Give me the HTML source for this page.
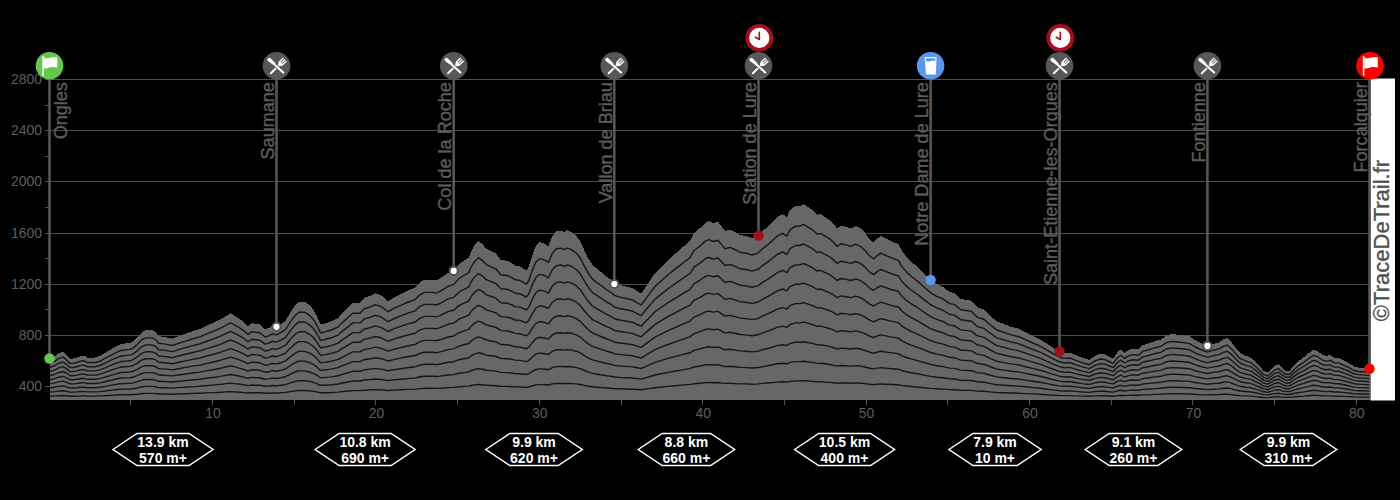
<!DOCTYPE html>
<html><head><meta charset="utf-8"><style>
html,body{margin:0;padding:0;background:#000;width:1400px;height:500px;overflow:hidden;}
svg{display:block;font-family:"Liberation Sans",sans-serif;}
</style></head><body>
<svg width="1400" height="500" viewBox="0 0 1400 500">
<rect width="1400" height="500" fill="#000"/>
<g stroke="#4f4f4f" stroke-width="1"><line x1="49.5" x2="1370" y1="386.5" y2="386.5"/><line x1="49.5" x2="1370" y1="335.5" y2="335.5"/><line x1="49.5" x2="1370" y1="284.5" y2="284.5"/><line x1="49.5" x2="1370" y1="233.5" y2="233.5"/><line x1="49.5" x2="1370" y1="181.5" y2="181.5"/><line x1="49.5" x2="1370" y1="130.5" y2="130.5"/><line x1="49.5" x2="1370" y1="79.5" y2="79.5"/></g>
<g stroke="#555" stroke-width="1" shape-rendering="crispEdges"><line x1="44.5" x2="49" y1="386.5" y2="386.5"/><line x1="44.5" x2="49" y1="361.5" y2="361.5"/><line x1="44.5" x2="49" y1="335.5" y2="335.5"/><line x1="44.5" x2="49" y1="309.5" y2="309.5"/><line x1="44.5" x2="49" y1="284.5" y2="284.5"/><line x1="44.5" x2="49" y1="258.5" y2="258.5"/><line x1="44.5" x2="49" y1="233.5" y2="233.5"/><line x1="44.5" x2="49" y1="207.5" y2="207.5"/><line x1="44.5" x2="49" y1="181.5" y2="181.5"/><line x1="44.5" x2="49" y1="156.5" y2="156.5"/><line x1="44.5" x2="49" y1="130.5" y2="130.5"/><line x1="44.5" x2="49" y1="105.5" y2="105.5"/><line x1="44.5" x2="49" y1="79.5" y2="79.5"/><line x1="130.8" x2="130.8" y1="400" y2="404.5"/><line x1="212.5" x2="212.5" y1="400" y2="404.5"/><line x1="294.2" x2="294.2" y1="400" y2="404.5"/><line x1="375.9" x2="375.9" y1="400" y2="404.5"/><line x1="457.6" x2="457.6" y1="400" y2="404.5"/><line x1="539.3" x2="539.3" y1="400" y2="404.5"/><line x1="621" x2="621" y1="400" y2="404.5"/><line x1="702.7" x2="702.7" y1="400" y2="404.5"/><line x1="784.4" x2="784.4" y1="400" y2="404.5"/><line x1="866.1" x2="866.1" y1="400" y2="404.5"/><line x1="947.8" x2="947.8" y1="400" y2="404.5"/><line x1="1029.5" x2="1029.5" y1="400" y2="404.5"/><line x1="1111.2" x2="1111.2" y1="400" y2="404.5"/><line x1="1192.9" x2="1192.9" y1="400" y2="404.5"/><line x1="1274.6" x2="1274.6" y1="400" y2="404.5"/><line x1="1356.3" x2="1356.3" y1="400" y2="404.5"/></g>
<g fill="#5e5e5e" font-size="15" text-anchor="end"><text transform="translate(42,390.5) scale(0.93,1)">400</text><text transform="translate(42,339.5) scale(0.93,1)">800</text><text transform="translate(42,288.5) scale(0.93,1)">1200</text><text transform="translate(42,237.5) scale(0.93,1)">1600</text><text transform="translate(42,185.5) scale(0.93,1)">2000</text><text transform="translate(42,134.5) scale(0.93,1)">2400</text><text transform="translate(42,83.5) scale(0.93,1)">2800</text></g>
<g fill="#5e5e5e" font-size="15" text-anchor="middle"><text transform="translate(213,418) scale(0.93,1)">10</text><text transform="translate(376.4,418) scale(0.93,1)">20</text><text transform="translate(539.8,418) scale(0.93,1)">30</text><text transform="translate(703.2,418) scale(0.93,1)">40</text><text transform="translate(866.6,418) scale(0.93,1)">50</text><text transform="translate(1030,418) scale(0.93,1)">60</text><text transform="translate(1193.4,418) scale(0.93,1)">70</text><text transform="translate(1356.8,418) scale(0.93,1)">80</text></g>
<path d="M49.5,399.5 L49.5,358.5 L55,356 L58,353.5 L63,351.5 L66,354 L70,358.5 L73,358.5 L77,357.5 L82,355.5 L85,356 L87,357.5 L95,357.5 L100,356 L105,353 L110,350 L115,347 L120,344.5 L125,343.5 L130,343 L133,341.5 L137,338 L141,333 L144,331 L146,330.2 L152,330.2 L155.6,332 L158.6,336.2 L164,336.8 L172.4,338.6 L178.4,336.2 L185.6,333.8 L194,330.8 L200,329 L206,326 L214.4,322.4 L221.6,318.8 L226.4,315.8 L230.6,313.4 L234.8,315.8 L240,319.4 L243.6,322 L247.8,326.2 L252,323.2 L255.6,323.8 L259.8,324.4 L265.2,329.2 L268.8,328 L272.4,325.6 L276.5,326.8 L280.8,324.4 L285.6,320.8 L290.4,312.4 L295.2,305.2 L298.8,301.6 L304.8,301.6 L309.6,305.2 L313.2,309.4 L316.8,316 L320.4,324.4 L324,323.8 L331.2,321.4 L338.4,317.8 L340,315.5 L346.4,309.2 L352.8,302.8 L360,302.8 L364,298 L370.4,295.6 L375.2,293.2 L381.6,295.6 L388,301.2 L394.4,297.2 L400.8,294 L407.2,290.8 L415.2,287.6 L420,282 L424.8,279.6 L432.8,279.6 L436,280.4 L440,278.5 L448,272.8 L453.6,270.9 L459.2,264 L464,260.8 L468.8,257.6 L471.2,251.2 L474.4,245.6 L478.4,241.1 L482.4,244 L486.4,248.8 L491.2,251.2 L496,253.6 L500.8,260 L507.2,260.8 L512,263.2 L515.2,265.6 L520,266.4 L526.4,270.4 L528.8,266.4 L532.8,253.6 L536,245.6 L539.2,242.4 L541.2,242.4 L545.2,244 L548.4,246.4 L552.4,236 L556.4,231.2 L561.2,230.4 L564.4,232 L567.6,230.4 L571.6,232 L576.4,236 L580.4,241.6 L584.4,250.4 L588.4,258.4 L592.4,264.8 L597.2,268.8 L602,272.8 L606.8,276.8 L611.6,280 L614.3,283 L619.6,284.8 L626,286.4 L632.4,288 L637.2,291.2 L641.2,293.6 L645.5,287 L650,280.5 L655,273 L660,268 L668,260 L676,253 L684,246 L690,241 L694,233 L700,228 L706,222 L709,221 L713,223 L718,221.6 L722,227 L725,231 L730,229.6 L735,232 L740,235 L746,236 L752,238 L758.3,235.6 L762.8,230.8 L767.6,226.8 L772.4,222 L777.2,217.2 L782.8,214 L786.8,217.2 L790,210 L795.6,206 L799.6,206 L803.6,204.1 L807.6,206.8 L812.4,210 L817.2,214.8 L820.4,214 L825.2,217.2 L830,220.4 L833.2,223.6 L837.2,228.4 L841.2,225.5 L846,226.8 L850.8,228.4 L855.6,226 L860.4,228.4 L864.8,232.8 L869.6,239.2 L873.6,242.4 L877.6,238.4 L880.8,236 L885.6,238.4 L892,241.6 L898.4,244 L901.6,250.4 L906.4,256.8 L911.2,261.6 L917.6,267.2 L924,273.6 L930.6,280 L936.8,284 L943.2,287.2 L949.6,292 L954.5,293 L960.8,298.9 L971.6,300.7 L977,307 L984.2,309.7 L989.6,315.1 L996.8,321.4 L1004,324 L1011.2,326.8 L1018.3,328.6 L1025.5,332.2 L1032.7,335.8 L1040,339.4 L1047.1,343.8 L1052.5,347.4 L1059.4,351.4 L1064.2,352.9 L1069.8,352.5 L1075.4,355 L1082.4,357.8 L1089.4,359.9 L1095,355.7 L1100.6,353.6 L1104.8,354.3 L1109,356.4 L1113.2,358.5 L1117.4,352.2 L1120.9,349.4 L1124.4,352.9 L1128.6,350.1 L1132.8,348.7 L1138.4,349.4 L1142.6,345.2 L1149.6,343.1 L1155.2,341 L1160.8,339.6 L1166.4,335.4 L1172,334 L1176,334.5 L1184,335.4 L1189.6,336.5 L1195.2,340.3 L1200.8,343.1 L1207.4,345.9 L1213.4,343.8 L1219,342.4 L1223.2,339.6 L1227.4,338.2 L1231.6,342.4 L1235.8,348 L1240,352.9 L1245.6,355.7 L1251.2,357.8 L1255.4,362 L1259.6,366.2 L1263.8,371.1 L1268,372.5 L1271,369.5 L1274.3,366 L1278.4,364.3 L1281.5,367.3 L1285.4,370.6 L1289.6,370.6 L1293.8,365.7 L1298,361.5 L1303.6,357.3 L1307.8,353.8 L1313.4,349.6 L1317.6,351 L1321.8,354.5 L1326,355.9 L1330.2,355.2 L1334.4,358 L1338.6,358 L1342.8,360.1 L1348.4,362.9 L1354,366.4 L1359.6,367.8 L1363.8,367.8 L1369.5,368.8 L1369.5,399.5 Z" fill="#676767" shape-rendering="crispEdges"/>
<g fill="none" stroke="#161616" stroke-width="1.4" stroke-linejoin="round"><polyline points="49.5,363.4 55,361.2 58,358.9 63,357.1 66,359.4 70,363.4 73,363.4 77,362.5 82,360.7 85,361.2 87,362.5 95,362.5 100,361.2 105,358.4 110,355.8 115,353.1 120,350.8 125,349.9 130,349.4 133,348.1 137,344.9 141,340.4 144,338.7 146,337.9 152,337.9 155.6,339.6 158.6,343.3 164,343.9 172.4,345.5 178.4,343.3 185.6,341.2 194,338.5 200,336.9 206,334.2 214.4,330.9 221.6,327.7 226.4,325 230.6,322.8 234.8,325 240,328.2 243.6,330.6 247.8,334.3 252,331.6 255.6,332.2 259.8,332.7 265.2,337 268.8,335.9 272.4,333.8 276.5,334.9 280.8,332.7 285.6,329.5 290.4,321.9 295.2,315.4 298.8,312.2 304.8,312.2 309.6,315.4 313.2,319.2 316.8,325.2 320.4,332.7 324,332.2 331.2,330 338.4,326.8 340,324.7 346.4,319 352.8,313.3 360,313.3 364,308.9 370.4,306.8 375.2,304.6 381.6,306.8 388,311.8 394.4,308.2 400.8,305.4 407.2,302.5 415.2,299.6 420,294.6 424.8,292.4 432.8,292.4 436,293.1 440,291.4 448,286.3 453.6,284.6 459.2,278.4 464,275.5 468.8,272.6 471.2,266.8 474.4,261.8 478.4,257.7 482.4,260.4 486.4,264.7 491.2,266.8 496,269 500.8,274.8 507.2,275.5 512,277.6 515.2,279.8 520,280.5 526.4,284.1 528.8,280.5 532.8,269 536,261.8 539.2,258.9 541.2,258.9 545.2,260.4 548.4,262.5 552.4,253.2 556.4,248.8 561.2,248.1 564.4,249.6 567.6,248.1 571.6,249.6 576.4,253.2 580.4,258.2 584.4,266.1 588.4,273.3 592.4,279.1 597.2,282.7 602,286.3 606.8,289.9 611.6,292.8 614.3,295.4 619.6,297.1 626,298.5 632.4,299.9 637.2,302.8 641.2,305 645.5,299.1 650,293.2 655,286.4 660,281.9 668,274.8 676,268.4 684,262.2 690,257.7 694,250.5 700,246 706,240.6 709,239.7 713,241.5 718,240.2 722,245.1 725,248.7 730,247.4 735,249.6 740,252.2 746,253.2 752,255 758.3,252.8 762.8,248.5 767.6,244.9 772.4,240.6 777.2,236.2 782.8,233.4 786.8,236.2 790,229.8 795.6,226.2 799.6,226.2 803.6,224.4 807.6,226.9 812.4,229.8 817.2,234.1 820.4,233.4 825.2,236.2 830,239.1 833.2,242 837.2,246.3 841.2,243.7 846,244.9 850.8,246.3 855.6,244.2 860.4,246.3 864.8,250.3 869.6,256 873.6,258.9 877.6,255.3 880.8,253.2 885.6,255.3 892,258.2 898.4,260.4 901.6,266.1 906.4,271.9 911.2,276.2 917.6,281.2 924,287 930.6,292.8 936.8,296.4 943.2,299.2 949.6,303.6 954.5,304.4 960.8,309.8 971.6,311.4 977,317.1 984.2,319.5 989.6,324.3 996.8,330 1004,332.4 1011.2,334.9 1018.3,336.5 1025.5,339.7 1032.7,343 1040,346.2 1047.1,350.2 1052.5,353.4 1059.4,357 1064.2,358.4 1069.8,358 1075.4,360.2 1082.4,362.8 1089.4,364.7 1095,360.9 1100.6,359 1104.8,359.6 1109,361.5 1113.2,363.4 1117.4,357.7 1120.9,355.2 1124.4,358.4 1128.6,355.8 1132.8,354.6 1138.4,355.2 1142.6,351.4 1149.6,349.5 1155.2,347.7 1160.8,346.4 1166.4,342.6 1172,341.4 1176,341.8 1184,342.6 1189.6,343.6 1195.2,347 1200.8,349.5 1207.4,352.1 1213.4,350.2 1219,348.9 1223.2,346.4 1227.4,345.1 1231.6,348.9 1235.8,353.9 1240,358.4 1245.6,360.9 1251.2,362.8 1255.4,366.6 1259.6,370.3 1263.8,374.7 1268,376 1271,373.3 1274.3,370.2 1278.4,368.6 1281.5,371.3 1285.4,374.3 1289.6,374.3 1293.8,369.9 1298,366.1 1303.6,362.3 1307.8,359.2 1313.4,355.4 1317.6,356.7 1321.8,359.8 1326,361.1 1330.2,360.4 1334.4,362.9 1338.6,362.9 1342.8,364.8 1348.4,367.4 1354,370.5 1359.6,371.8 1363.8,371.8 1369.5,372.7"/><polyline points="49.5,367.5 55,365.5 58,363.5 63,361.9 66,363.9 70,367.5 73,367.5 77,366.7 82,365.1 85,365.5 87,366.7 95,366.7 100,365.5 105,363.1 110,360.7 115,358.3 120,356.3 125,355.5 130,355.1 133,353.9 137,351.1 141,347.1 144,345.5 146,344.9 152,344.9 155.6,346.3 158.6,349.7 164,350.1 172.4,351.6 178.4,349.7 185.6,347.7 194,345.3 200,343.9 206,341.5 214.4,338.6 221.6,335.7 226.4,333.3 230.6,331.4 234.8,333.3 240,336.2 243.6,338.3 247.8,341.7 252,339.3 255.6,339.7 259.8,340.2 265.2,344.1 268.8,343.1 272.4,341.2 276.5,342.1 280.8,340.2 285.6,337.3 290.4,330.6 295.2,324.9 298.8,322 304.8,322 309.6,324.9 313.2,328.2 316.8,333.5 320.4,340.2 324,339.7 331.2,337.8 338.4,334.9 340,333.1 346.4,328.1 352.8,322.9 360,322.9 364,319.1 370.4,317.2 375.2,315.3 381.6,317.2 388,321.7 394.4,318.5 400.8,315.9 407.2,313.3 415.2,310.8 420,306.3 424.8,304.4 432.8,304.4 436,305 440,303.5 448,298.9 453.6,297.4 459.2,291.9 464,289.3 468.8,286.8 471.2,281.7 474.4,277.2 478.4,273.6 482.4,275.9 486.4,279.7 491.2,281.7 496,283.6 500.8,288.7 507.2,289.3 512,291.3 515.2,293.2 520,293.8 526.4,297 528.8,293.8 532.8,283.6 536,277.2 539.2,274.6 541.2,274.6 545.2,275.9 548.4,277.8 552.4,269.5 556.4,265.7 561.2,265 564.4,266.3 567.6,265 571.6,266.3 576.4,269.5 580.4,274 584.4,281 588.4,287.4 592.4,292.5 597.2,295.7 602,298.9 606.8,302.1 611.6,304.7 614.3,307.1 619.6,308.5 626,309.8 632.4,311.1 637.2,313.7 641.2,315.6 645.5,310.3 650,305.1 655,299.1 660,295.1 668,288.7 676,283.1 684,277.5 690,273.5 694,267.1 700,263.1 706,258.3 709,257.5 713,259.1 718,258 722,262.3 725,265.5 730,264.4 735,266.3 740,268.7 746,269.5 752,271.1 758.3,269.2 762.8,265.3 767.6,262.1 772.4,258.3 777.2,254.5 782.8,251.9 786.8,254.5 790,248.7 795.6,245.5 799.6,245.5 803.6,244 807.6,246.1 812.4,248.7 817.2,252.5 820.4,251.9 825.2,254.5 830,257 833.2,259.6 837.2,263.4 841.2,261.1 846,262.1 850.8,263.4 855.6,261.5 860.4,263.4 864.8,266.9 869.6,272.1 873.6,274.6 877.6,271.4 880.8,269.5 885.6,271.4 892,274 898.4,275.9 901.6,281 906.4,286.1 911.2,290 917.6,294.5 924,299.6 930.6,304.7 936.8,307.9 943.2,310.5 949.6,314.3 954.5,315.1 960.8,319.8 971.6,321.3 977,326.3 984.2,328.5 989.6,332.8 996.8,337.8 1004,339.9 1011.2,342.1 1018.3,343.6 1025.5,346.5 1032.7,349.3 1040,352.2 1047.1,355.7 1052.5,358.6 1059.4,361.8 1064.2,363 1069.8,362.7 1075.4,364.7 1082.4,366.9 1089.4,368.6 1095,365.3 1100.6,363.6 1104.8,364.1 1109,365.8 1113.2,367.5 1117.4,362.5 1120.9,360.2 1124.4,363 1128.6,360.8 1132.8,359.7 1138.4,360.2 1142.6,356.9 1149.6,355.2 1155.2,353.5 1160.8,352.4 1166.4,349 1172,347.9 1176,348.3 1184,349 1189.6,349.9 1195.2,352.9 1200.8,355.2 1207.4,357.4 1213.4,355.7 1219,354.6 1223.2,352.4 1227.4,351.3 1231.6,354.6 1235.8,359.1 1240,363 1245.6,365.3 1251.2,366.9 1255.4,370.3 1259.6,373.7 1263.8,377.6 1268,378.7 1271,376.3 1274.3,373.5 1278.4,372.1 1281.5,374.5 1285.4,377.2 1289.6,377.2 1293.8,373.3 1298,369.9 1303.6,366.5 1307.8,363.7 1313.4,360.4 1317.6,361.5 1321.8,364.3 1326,365.4 1330.2,364.9 1334.4,367.1 1338.6,367.1 1342.8,368.8 1348.4,371 1354,373.8 1359.6,374.9 1363.8,374.9 1369.5,375.7"/><polyline points="49.5,371.6 55,369.9 58,368.1 63,366.7 66,368.4 70,371.6 73,371.6 77,370.9 82,369.5 85,369.9 87,370.9 95,370.9 100,369.9 105,367.8 110,365.7 115,363.6 120,361.8 125,361.1 130,360.8 133,359.7 137,357.2 141,353.8 144,352.4 146,351.8 152,351.8 155.6,353.1 158.6,356 164,356.4 172.4,357.7 178.4,356 185.6,354.3 194,352.2 200,350.9 206,348.9 214.4,346.3 221.6,343.8 226.4,341.7 230.6,340 234.8,341.7 240,344.2 243.6,346.1 247.8,349 252,346.9 255.6,347.3 259.8,347.7 265.2,351.1 268.8,350.2 272.4,348.6 276.5,349.4 280.8,347.7 285.6,345.2 290.4,339.3 295.2,334.3 298.8,331.8 304.8,331.8 309.6,334.3 313.2,337.2 316.8,341.9 320.4,347.7 324,347.3 331.2,345.6 338.4,343.1 340,341.5 346.4,337.1 352.8,332.6 360,332.6 364,329.2 370.4,327.6 375.2,325.9 381.6,327.6 388,331.5 394.4,328.7 400.8,326.4 407.2,324.2 415.2,322 420,318.1 424.8,316.4 432.8,316.4 436,316.9 440,315.6 448,311.6 453.6,310.3 459.2,305.4 464,303.2 468.8,301 471.2,296.5 474.4,292.6 478.4,289.4 482.4,291.4 486.4,294.8 491.2,296.5 496,298.2 500.8,302.7 507.2,303.2 512,304.9 515.2,306.6 520,307.1 526.4,309.9 528.8,307.1 532.8,298.2 536,292.6 539.2,290.3 541.2,290.3 545.2,291.4 548.4,293.1 552.4,285.9 556.4,282.5 561.2,281.9 564.4,283.1 567.6,281.9 571.6,283.1 576.4,285.9 580.4,289.8 584.4,295.9 588.4,301.5 592.4,306 597.2,308.8 602,311.6 606.8,314.4 611.6,316.7 614.3,318.8 619.6,320 626,321.1 632.4,322.2 637.2,324.5 641.2,326.2 645.5,321.6 650,317 655,311.8 660,308.2 668,302.7 676,297.8 684,292.9 690,289.4 694,283.8 700,280.2 706,276.1 709,275.4 713,276.8 718,275.8 722,279.6 725,282.4 730,281.4 735,283.1 740,285.2 746,285.9 752,287.2 758.3,285.6 762.8,282.2 767.6,279.4 772.4,276.1 777.2,272.7 782.8,270.4 786.8,272.7 790,267.7 795.6,264.9 799.6,264.9 803.6,263.5 807.6,265.4 812.4,267.7 817.2,271 820.4,270.4 825.2,272.7 830,274.9 833.2,277.2 837.2,280.5 841.2,278.5 846,279.4 850.8,280.5 855.6,278.9 860.4,280.5 864.8,283.6 869.6,288.1 873.6,290.3 877.6,287.5 880.8,285.9 885.6,287.5 892,289.8 898.4,291.4 901.6,295.9 906.4,300.4 911.2,303.8 917.6,307.7 924,312.2 930.6,316.7 936.8,319.4 943.2,321.7 949.6,325.1 954.5,325.8 960.8,329.9 971.6,331.1 977,335.6 984.2,337.4 989.6,341.2 996.8,345.6 1004,347.4 1011.2,349.4 1018.3,350.7 1025.5,353.2 1032.7,355.7 1040,358.2 1047.1,361.3 1052.5,363.8 1059.4,366.6 1064.2,367.7 1069.8,367.4 1075.4,369.2 1082.4,371.1 1089.4,372.6 1095,369.6 1100.6,368.2 1104.8,368.7 1109,370.1 1113.2,371.6 1117.4,367.2 1120.9,365.2 1124.4,367.7 1128.6,365.7 1132.8,364.7 1138.4,365.2 1142.6,362.3 1149.6,360.8 1155.2,359.4 1160.8,358.4 1166.4,355.4 1172,354.4 1176,354.8 1184,355.4 1189.6,356.2 1195.2,358.9 1200.8,360.8 1207.4,362.8 1213.4,361.3 1219,360.3 1223.2,358.4 1227.4,357.4 1231.6,360.3 1235.8,364.2 1240,367.7 1245.6,369.6 1251.2,371.1 1255.4,374.1 1259.6,377 1263.8,380.4 1268,381.4 1271,379.3 1274.3,376.9 1278.4,375.7 1281.5,377.8 1285.4,380.1 1289.6,380.1 1293.8,376.6 1298,373.7 1303.6,370.8 1307.8,368.3 1313.4,365.4 1317.6,366.4 1321.8,368.8 1326,369.8 1330.2,369.3 1334.4,371.2 1338.6,371.2 1342.8,372.7 1348.4,374.7 1354,377.1 1359.6,378.1 1363.8,378.1 1369.5,378.8"/><polyline points="49.5,375.7 55,374.2 58,372.7 63,371.5 66,373 70,375.7 73,375.7 77,375.1 82,373.9 85,374.2 87,375.1 95,375.1 100,374.2 105,372.4 110,370.6 115,368.8 120,367.3 125,366.7 130,366.4 133,365.5 137,363.4 141,360.4 144,359.2 146,358.7 152,358.7 155.6,359.8 158.6,362.3 164,362.7 172.4,363.8 178.4,362.3 185.6,360.9 194,359.1 200,358 206,356.2 214.4,354 221.6,351.9 226.4,350.1 230.6,348.6 234.8,350.1 240,352.2 243.6,353.8 247.8,356.3 252,354.5 255.6,354.9 259.8,355.2 265.2,358.1 268.8,357.4 272.4,356 276.5,356.7 280.8,355.2 285.6,353.1 290.4,348 295.2,343.7 298.8,341.6 304.8,341.6 309.6,343.7 313.2,346.2 316.8,350.2 320.4,355.2 324,354.9 331.2,353.4 338.4,351.3 340,349.9 346.4,346.1 352.8,342.3 360,342.3 364,339.4 370.4,338 375.2,336.5 381.6,338 388,341.3 394.4,338.9 400.8,337 407.2,335.1 415.2,333.2 420,329.8 424.8,328.4 432.8,328.4 436,328.8 440,327.7 448,324.3 453.6,323.1 459.2,319 464,317.1 468.8,315.2 471.2,311.3 474.4,308 478.4,305.3 482.4,307 486.4,309.9 491.2,311.3 496,312.8 500.8,316.6 507.2,317.1 512,318.5 515.2,320 520,320.4 526.4,322.8 528.8,320.4 532.8,312.8 536,308 539.2,306 541.2,306 545.2,307 548.4,308.4 552.4,302.2 556.4,299.3 561.2,298.8 564.4,299.8 567.6,298.8 571.6,299.8 576.4,302.2 580.4,305.6 584.4,310.8 588.4,315.6 592.4,319.5 597.2,321.9 602,324.3 606.8,326.7 611.6,328.6 614.3,330.4 619.6,331.5 626,332.4 632.4,333.4 637.2,335.3 641.2,336.8 645.5,332.8 650,328.9 655,324.4 660,321.4 668,316.6 676,312.4 684,308.2 690,305.2 694,300.4 700,297.4 706,293.8 709,293.2 713,294.4 718,293.6 722,296.8 725,299.2 730,298.4 735,299.8 740,301.6 746,302.2 752,303.4 758.3,302 762.8,299.1 767.6,296.7 772.4,293.8 777.2,290.9 782.8,289 786.8,290.9 790,286.6 795.6,284.2 799.6,284.2 803.6,283.1 807.6,284.7 812.4,286.6 817.2,289.5 820.4,289 825.2,290.9 830,292.8 833.2,294.8 837.2,297.6 841.2,295.9 846,296.7 850.8,297.6 855.6,296.2 860.4,297.6 864.8,300.3 869.6,304.1 873.6,306 877.6,303.6 880.8,302.2 885.6,303.6 892,305.6 898.4,307 901.6,310.8 906.4,314.7 911.2,317.6 917.6,320.9 924,324.8 930.6,328.6 936.8,331 943.2,332.9 949.6,335.8 954.5,336.4 960.8,339.9 971.6,341 977,344.8 984.2,346.4 989.6,349.7 996.8,353.4 1004,355 1011.2,356.7 1018.3,357.8 1025.5,359.9 1032.7,362.1 1040,364.2 1047.1,366.9 1052.5,369 1059.4,371.4 1064.2,372.3 1069.8,372.1 1075.4,373.6 1082.4,375.3 1089.4,376.5 1095,374 1100.6,372.8 1104.8,373.2 1109,374.4 1113.2,375.7 1117.4,371.9 1120.9,370.2 1124.4,372.3 1128.6,370.7 1132.8,369.8 1138.4,370.2 1142.6,367.7 1149.6,366.5 1155.2,365.2 1160.8,364.4 1166.4,361.8 1172,361 1176,361.3 1184,361.8 1189.6,362.5 1195.2,364.8 1200.8,366.5 1207.4,368.1 1213.4,366.9 1219,366 1223.2,364.4 1227.4,363.5 1231.6,366 1235.8,369.4 1240,372.3 1245.6,374 1251.2,375.3 1255.4,377.8 1259.6,380.3 1263.8,383.3 1268,384.1 1271,382.3 1274.3,380.2 1278.4,379.2 1281.5,381 1285.4,383 1289.6,383 1293.8,380 1298,377.5 1303.6,375 1307.8,372.9 1313.4,370.4 1317.6,371.2 1321.8,373.3 1326,374.1 1330.2,373.7 1334.4,375.4 1338.6,375.4 1342.8,376.7 1348.4,378.3 1354,380.4 1359.6,381.3 1363.8,381.3 1369.5,381.9"/><polyline points="49.5,379.8 55,378.6 58,377.3 63,376.3 66,377.6 70,379.8 73,379.8 77,379.3 82,378.3 85,378.6 87,379.3 95,379.3 100,378.6 105,377.1 110,375.6 115,374.1 120,372.8 125,372.3 130,372.1 133,371.3 137,369.6 141,367.1 144,366.1 146,365.7 152,365.7 155.6,366.6 158.6,368.7 164,368.9 172.4,369.9 178.4,368.7 185.6,367.4 194,365.9 200,365.1 206,363.6 214.4,361.8 221.6,359.9 226.4,358.4 230.6,357.2 234.8,358.4 240,360.2 243.6,361.6 247.8,363.7 252,362.2 255.6,362.4 259.8,362.8 265.2,365.2 268.8,364.6 272.4,363.4 276.5,363.9 280.8,362.8 285.6,360.9 290.4,356.8 295.2,353.2 298.8,351.4 304.8,351.4 309.6,353.2 313.2,355.2 316.8,358.6 320.4,362.8 324,362.4 331.2,361.2 338.4,359.4 340,358.3 346.4,355.2 352.8,351.9 360,351.9 364,349.6 370.4,348.4 375.2,347.1 381.6,348.4 388,351.2 394.4,349.2 400.8,347.6 407.2,346 415.2,344.4 420,341.6 424.8,340.4 432.8,340.4 436,340.8 440,339.8 448,337 453.6,336 459.2,332.6 464,330.9 468.8,329.4 471.2,326.2 474.4,323.4 478.4,321.1 482.4,322.6 486.4,324.9 491.2,326.2 496,327.4 500.8,330.6 507.2,330.9 512,332.2 515.2,333.4 520,333.8 526.4,335.8 528.8,333.8 532.8,327.4 536,323.4 539.2,321.8 541.2,321.8 545.2,322.6 548.4,323.8 552.4,318.6 556.4,316.2 561.2,315.8 564.4,316.6 567.6,315.8 571.6,316.6 576.4,318.6 580.4,321.4 584.4,325.8 588.4,329.8 592.4,332.9 597.2,334.9 602,337 606.8,339 611.6,340.6 614.3,342.1 619.6,343 626,343.8 632.4,344.6 637.2,346.1 641.2,347.4 645.5,344.1 650,340.8 655,337.1 660,334.6 668,330.6 676,327.1 684,323.6 690,321.1 694,317.1 700,314.6 706,311.6 709,311.1 713,312.1 718,311.4 722,314.1 725,316.1 730,315.4 735,316.6 740,318.1 746,318.6 752,319.6 758.3,318.4 762.8,315.9 767.6,313.9 772.4,311.6 777.2,309.2 782.8,307.6 786.8,309.2 790,305.6 795.6,303.6 799.6,303.6 803.6,302.6 807.6,303.9 812.4,305.6 817.2,307.9 820.4,307.6 825.2,309.2 830,310.8 833.2,312.4 837.2,314.8 841.2,313.3 846,313.9 850.8,314.8 855.6,313.6 860.4,314.8 864.8,316.9 869.6,320.2 873.6,321.8 877.6,319.8 880.8,318.6 885.6,319.8 892,321.4 898.4,322.6 901.6,325.8 906.4,328.9 911.2,331.4 917.6,334.2 924,337.4 930.6,340.6 936.8,342.6 943.2,344.1 949.6,346.6 954.5,347.1 960.8,350 971.6,350.9 977,354.1 984.2,355.4 989.6,358.1 996.8,361.2 1004,362.6 1011.2,363.9 1018.3,364.9 1025.5,366.7 1032.7,368.4 1040,370.2 1047.1,372.4 1052.5,374.2 1059.4,376.2 1064.2,377 1069.8,376.8 1075.4,378.1 1082.4,379.4 1089.4,380.5 1095,378.4 1100.6,377.4 1104.8,377.7 1109,378.8 1113.2,379.8 1117.4,376.7 1120.9,375.2 1124.4,377 1128.6,375.6 1132.8,374.9 1138.4,375.2 1142.6,373.2 1149.6,372.1 1155.2,371.1 1160.8,370.4 1166.4,368.2 1172,367.6 1176,367.8 1184,368.2 1189.6,368.8 1195.2,370.7 1200.8,372.1 1207.4,373.5 1213.4,372.4 1219,371.8 1223.2,370.4 1227.4,369.7 1231.6,371.8 1235.8,374.6 1240,377 1245.6,378.4 1251.2,379.4 1255.4,381.6 1259.6,383.7 1263.8,386.1 1268,386.8 1271,385.3 1274.3,383.6 1278.4,382.7 1281.5,384.2 1285.4,385.9 1289.6,385.9 1293.8,383.4 1298,381.3 1303.6,379.2 1307.8,377.4 1313.4,375.4 1317.6,376.1 1321.8,377.8 1326,378.5 1330.2,378.2 1334.4,379.6 1338.6,379.6 1342.8,380.6 1348.4,382 1354,383.8 1359.6,384.4 1363.8,384.4 1369.5,384.9"/><polyline points="49.5,383.9 55,382.9 58,381.9 63,381.1 66,382.1 70,383.9 73,383.9 77,383.5 82,382.7 85,382.9 87,383.5 95,383.5 100,382.9 105,381.7 110,380.5 115,379.3 120,378.3 125,377.9 130,377.7 133,377.1 137,375.7 141,373.7 144,372.9 146,372.6 152,372.6 155.6,373.3 158.6,375 164,375.2 172.4,375.9 178.4,375 185.6,374 194,372.8 200,372.1 206,370.9 214.4,369.5 221.6,368 226.4,366.8 230.6,365.9 234.8,366.8 240,368.3 243.6,369.3 247.8,371 252,369.8 255.6,370 259.8,370.3 265.2,372.2 268.8,371.7 272.4,370.7 276.5,371.2 280.8,370.3 285.6,368.8 290.4,365.5 295.2,362.6 298.8,361.1 304.8,361.1 309.6,362.6 313.2,364.3 316.8,366.9 320.4,370.3 324,370 331.2,369.1 338.4,367.6 340,366.7 346.4,364.2 352.8,361.6 360,361.6 364,359.7 370.4,358.7 375.2,357.8 381.6,358.7 388,361 394.4,359.4 400.8,358.1 407.2,356.8 415.2,355.5 420,353.3 424.8,352.3 432.8,352.3 436,352.7 440,351.9 448,349.6 453.6,348.9 459.2,346.1 464,344.8 468.8,343.5 471.2,341 474.4,338.7 478.4,336.9 482.4,338.1 486.4,340 491.2,341 496,341.9 500.8,344.5 507.2,344.8 512,345.8 515.2,346.7 520,347.1 526.4,348.7 528.8,347.1 532.8,341.9 536,338.7 539.2,337.5 541.2,337.5 545.2,338.1 548.4,339.1 552.4,334.9 556.4,333 561.2,332.7 564.4,333.3 567.6,332.7 571.6,333.3 576.4,334.9 580.4,337.1 584.4,340.7 588.4,343.9 592.4,346.4 597.2,348 602,349.6 606.8,351.2 611.6,352.5 614.3,353.7 619.6,354.4 626,355.1 632.4,355.7 637.2,357 641.2,357.9 645.5,355.3 650,352.7 655,349.7 660,347.7 668,344.5 676,341.7 684,338.9 690,336.9 694,333.7 700,331.7 706,329.3 709,328.9 713,329.7 718,329.1 722,331.3 725,332.9 730,332.3 735,333.3 740,334.5 746,334.9 752,335.7 758.3,334.7 762.8,332.8 767.6,331.2 772.4,329.3 777.2,327.4 782.8,326.1 786.8,327.4 790,324.5 795.6,322.9 799.6,322.9 803.6,322.1 807.6,323.2 812.4,324.5 817.2,326.4 820.4,326.1 825.2,327.4 830,328.7 833.2,329.9 837.2,331.9 841.2,330.7 846,331.2 850.8,331.9 855.6,330.9 860.4,331.9 864.8,333.6 869.6,336.2 873.6,337.5 877.6,335.9 880.8,334.9 885.6,335.9 892,337.1 898.4,338.1 901.6,340.7 906.4,343.2 911.2,345.1 917.6,347.4 924,349.9 930.6,352.5 936.8,354.1 943.2,355.4 949.6,357.3 954.5,357.7 960.8,360.1 971.6,360.8 977,363.3 984.2,364.4 989.6,366.5 996.8,369.1 1004,370.1 1011.2,371.2 1018.3,371.9 1025.5,373.4 1032.7,374.8 1040,376.3 1047.1,378 1052.5,379.5 1059.4,381.1 1064.2,381.7 1069.8,381.5 1075.4,382.5 1082.4,383.6 1089.4,384.5 1095,382.8 1100.6,381.9 1104.8,382.2 1109,383.1 1113.2,383.9 1117.4,381.4 1120.9,380.3 1124.4,381.7 1128.6,380.5 1132.8,380 1138.4,380.3 1142.6,378.6 1149.6,377.7 1155.2,376.9 1160.8,376.3 1166.4,374.7 1172,374.1 1176,374.3 1184,374.7 1189.6,375.1 1195.2,376.6 1200.8,377.7 1207.4,378.9 1213.4,378 1219,377.5 1223.2,376.3 1227.4,375.8 1231.6,377.5 1235.8,379.7 1240,381.7 1245.6,382.8 1251.2,383.6 1255.4,385.3 1259.6,387 1263.8,388.9 1268,389.5 1271,388.3 1274.3,386.9 1278.4,386.2 1281.5,387.4 1285.4,388.7 1289.6,388.7 1293.8,386.8 1298,385.1 1303.6,383.4 1307.8,382 1313.4,380.3 1317.6,380.9 1321.8,382.3 1326,382.9 1330.2,382.6 1334.4,383.7 1338.6,383.7 1342.8,384.5 1348.4,385.7 1354,387.1 1359.6,387.6 1363.8,387.6 1369.5,388"/><polyline points="49.5,388 55,387.2 58,386.5 63,385.9 66,386.7 70,388 73,388 77,387.7 82,387.1 85,387.2 87,387.7 95,387.7 100,387.2 105,386.4 110,385.4 115,384.6 120,383.8 125,383.5 130,383.4 133,382.9 137,381.9 141,380.4 144,379.8 146,379.5 152,379.5 155.6,380.1 158.6,381.3 164,381.5 172.4,382 178.4,381.3 185.6,380.6 194,379.7 200,379.2 206,378.2 214.4,377.2 221.6,376.1 226.4,375.2 230.6,374.5 234.8,375.2 240,376.3 243.6,377.1 247.8,378.3 252,377.4 255.6,377.6 259.8,377.8 265.2,379.2 268.8,378.9 272.4,378.1 276.5,378.5 280.8,377.8 285.6,376.7 290.4,374.2 295.2,372 298.8,370.9 304.8,370.9 309.6,372 313.2,373.3 316.8,375.2 320.4,377.8 324,377.6 331.2,376.9 338.4,375.8 340,375.1 346.4,373.2 352.8,371.3 360,371.3 364,369.9 370.4,369.1 375.2,368.4 381.6,369.1 388,370.8 394.4,369.6 400.8,368.7 407.2,367.7 415.2,366.7 420,365.1 424.8,364.3 432.8,364.3 436,364.6 440,364 448,362.3 453.6,361.7 459.2,359.7 464,358.7 468.8,357.7 471.2,355.8 474.4,354.1 478.4,352.8 482.4,353.7 486.4,355.1 491.2,355.8 496,356.5 500.8,358.4 507.2,358.7 512,359.4 515.2,360.1 520,360.4 526.4,361.6 528.8,360.4 532.8,356.5 536,354.1 539.2,353.2 541.2,353.2 545.2,353.7 548.4,354.4 552.4,351.2 556.4,349.8 561.2,349.6 564.4,350.1 567.6,349.6 571.6,350.1 576.4,351.2 580.4,352.9 584.4,355.6 588.4,358 592.4,359.9 597.2,361.1 602,362.3 606.8,363.5 611.6,364.4 614.3,365.4 619.6,365.9 626,366.4 632.4,366.9 637.2,367.8 641.2,368.5 645.5,366.6 650,364.6 655,362.4 660,360.9 668,358.4 676,356.4 684,354.2 690,352.8 694,350.4 700,348.9 706,347.1 709,346.8 713,347.4 718,346.9 722,348.6 725,349.8 730,349.3 735,350.1 740,350.9 746,351.2 752,351.9 758.3,351.1 762.8,349.7 767.6,348.5 772.4,347.1 777.2,345.6 782.8,344.7 786.8,345.6 790,343.4 795.6,342.2 799.6,342.2 803.6,341.7 807.6,342.5 812.4,343.4 817.2,344.9 820.4,344.7 825.2,345.6 830,346.6 833.2,347.5 837.2,349 841.2,348.1 846,348.5 850.8,349 855.6,348.2 860.4,349 864.8,350.3 869.6,352.2 873.6,353.2 877.6,352 880.8,351.2 885.6,352 892,352.9 898.4,353.7 901.6,355.6 906.4,357.5 911.2,358.9 917.6,360.6 924,362.5 930.6,364.4 936.8,365.7 943.2,366.6 949.6,368.1 954.5,368.4 960.8,370.1 971.6,370.7 977,372.6 984.2,373.4 989.6,375 996.8,376.9 1004,377.7 1011.2,378.5 1018.3,379 1025.5,380.1 1032.7,381.2 1040,382.3 1047.1,383.6 1052.5,384.7 1059.4,385.9 1064.2,386.3 1069.8,386.2 1075.4,386.9 1082.4,387.8 1089.4,388.4 1095,387.2 1100.6,386.5 1104.8,386.7 1109,387.4 1113.2,388 1117.4,386.1 1120.9,385.3 1124.4,386.3 1128.6,385.5 1132.8,385.1 1138.4,385.3 1142.6,384 1149.6,383.4 1155.2,382.8 1160.8,382.3 1166.4,381.1 1172,380.7 1176,380.8 1184,381.1 1189.6,381.4 1195.2,382.5 1200.8,383.4 1207.4,384.2 1213.4,383.6 1219,383.2 1223.2,382.3 1227.4,381.9 1231.6,383.2 1235.8,384.9 1240,386.3 1245.6,387.2 1251.2,387.8 1255.4,389.1 1259.6,390.3 1263.8,391.8 1268,392.2 1271,391.3 1274.3,390.2 1278.4,389.7 1281.5,390.6 1285.4,391.6 1289.6,391.6 1293.8,390.2 1298,388.9 1303.6,387.6 1307.8,386.6 1313.4,385.3 1317.6,385.8 1321.8,386.8 1326,387.2 1330.2,387 1334.4,387.9 1338.6,387.9 1342.8,388.5 1348.4,389.3 1354,390.4 1359.6,390.8 1363.8,390.8 1369.5,391.1"/><polyline points="49.5,392.1 55,391.6 58,391.1 63,390.7 66,391.2 70,392.1 73,392.1 77,391.9 82,391.5 85,391.6 87,391.9 95,391.9 100,391.6 105,391 110,390.4 115,389.8 120,389.3 125,389.1 130,389 133,388.7 137,388 141,387 144,386.6 146,386.4 152,386.4 155.6,386.8 158.6,387.6 164,387.8 172.4,388.1 178.4,387.6 185.6,387.2 194,386.6 200,386.2 206,385.6 214.4,384.9 221.6,384.2 226.4,383.6 230.6,383.1 234.8,383.6 240,384.3 243.6,384.8 247.8,385.6 252,385 255.6,385.2 259.8,385.3 265.2,386.2 268.8,386 272.4,385.5 276.5,385.8 280.8,385.3 285.6,384.6 290.4,382.9 295.2,381.4 298.8,380.7 304.8,380.7 309.6,381.4 313.2,382.3 316.8,383.6 320.4,385.3 324,385.2 331.2,384.7 338.4,384 340,383.5 346.4,382.2 352.8,381 360,381 364,380 370.4,379.5 375.2,379 381.6,379.5 388,380.6 394.4,379.8 400.8,379.2 407.2,378.6 415.2,377.9 420,376.8 424.8,376.3 432.8,376.3 436,376.5 440,376.1 448,375 453.6,374.6 459.2,373.2 464,372.6 468.8,371.9 471.2,370.6 474.4,369.5 478.4,368.6 482.4,369.2 486.4,370.2 491.2,370.6 496,371.1 500.8,372.4 507.2,372.6 512,373 515.2,373.5 520,373.7 526.4,374.5 528.8,373.7 532.8,371.1 536,369.5 539.2,368.9 541.2,368.9 545.2,369.2 548.4,369.7 552.4,367.6 556.4,366.6 561.2,366.5 564.4,366.8 567.6,366.5 571.6,366.8 576.4,367.6 580.4,368.7 584.4,370.5 588.4,372.1 592.4,373.4 597.2,374.2 602,375 606.8,375.8 611.6,376.4 614.3,377 619.6,377.4 626,377.7 632.4,378 637.2,378.6 641.2,379.1 645.5,377.8 650,376.5 655,375 660,374 668,372.4 676,371 684,369.6 690,368.6 694,367 700,366 706,364.8 709,364.6 713,365 718,364.7 722,365.8 725,366.6 730,366.3 735,366.8 740,367.4 746,367.6 752,368 758.3,367.5 762.8,366.6 767.6,365.8 772.4,364.8 777.2,363.8 782.8,363.2 786.8,363.8 790,362.4 795.6,361.6 799.6,361.6 803.6,361.2 807.6,361.8 812.4,362.4 817.2,363.4 820.4,363.2 825.2,363.8 830,364.5 833.2,365.1 837.2,366.1 841.2,365.5 846,365.8 850.8,366.1 855.6,365.6 860.4,366.1 864.8,367 869.6,368.2 873.6,368.9 877.6,368.1 880.8,367.6 885.6,368.1 892,368.7 898.4,369.2 901.6,370.5 906.4,371.8 911.2,372.7 917.6,373.8 924,375.1 930.6,376.4 936.8,377.2 943.2,377.8 949.6,378.8 954.5,379 960.8,380.2 971.6,380.5 977,381.8 984.2,382.3 989.6,383.4 996.8,384.7 1004,385.2 1011.2,385.8 1018.3,386.1 1025.5,386.8 1032.7,387.6 1040,388.3 1047.1,389.2 1052.5,389.9 1059.4,390.7 1064.2,391 1069.8,390.9 1075.4,391.4 1082.4,392 1089.4,392.4 1095,391.5 1100.6,391.1 1104.8,391.3 1109,391.7 1113.2,392.1 1117.4,390.8 1120.9,390.3 1124.4,391 1128.6,390.4 1132.8,390.1 1138.4,390.3 1142.6,389.4 1149.6,389 1155.2,388.6 1160.8,388.3 1166.4,387.5 1172,387.2 1176,387.3 1184,387.5 1189.6,387.7 1195.2,388.5 1200.8,389 1207.4,389.6 1213.4,389.2 1219,388.9 1223.2,388.3 1227.4,388 1231.6,388.9 1235.8,390 1240,391 1245.6,391.5 1251.2,392 1255.4,392.8 1259.6,393.6 1263.8,394.6 1268,394.9 1271,394.3 1274.3,393.6 1278.4,393.3 1281.5,393.9 1285.4,394.5 1289.6,394.5 1293.8,393.5 1298,392.7 1303.6,391.9 1307.8,391.2 1313.4,390.3 1317.6,390.6 1321.8,391.3 1326,391.6 1330.2,391.4 1334.4,392 1338.6,392 1342.8,392.4 1348.4,393 1354,393.7 1359.6,394 1363.8,394 1369.5,394.2"/><polyline points="49.5,396.2 55,395.9 58,395.7 63,395.5 66,395.8 70,396.2 73,396.2 77,396.1 82,395.9 85,395.9 87,396.1 95,396.1 100,395.9 105,395.7 110,395.4 115,395.1 120,394.8 125,394.7 130,394.7 133,394.5 137,394.2 141,393.7 144,393.4 146,393.4 152,393.4 155.6,393.6 158.6,394 164,394 172.4,394.2 178.4,394 185.6,393.7 194,393.4 200,393.2 206,392.9 214.4,392.6 221.6,392.2 226.4,391.9 230.6,391.7 234.8,391.9 240,392.3 243.6,392.6 247.8,393 252,392.7 255.6,392.7 259.8,392.8 265.2,393.3 268.8,393.2 272.4,392.9 276.5,393 280.8,392.8 285.6,392.4 290.4,391.6 295.2,390.9 298.8,390.5 304.8,390.5 309.6,390.9 313.2,391.3 316.8,391.9 320.4,392.8 324,392.7 331.2,392.5 338.4,392.1 340,391.9 346.4,391.3 352.8,390.6 360,390.6 364,390.2 370.4,389.9 375.2,389.7 381.6,389.9 388,390.5 394.4,390.1 400.8,389.8 407.2,389.4 415.2,389.1 420,388.6 424.8,388.3 432.8,388.3 436,388.4 440,388.2 448,387.6 453.6,387.4 459.2,386.8 464,386.4 468.8,386.1 471.2,385.5 474.4,384.9 478.4,384.5 482.4,384.8 486.4,385.2 491.2,385.5 496,385.7 500.8,386.4 507.2,386.4 512,386.7 515.2,386.9 520,387 526.4,387.4 528.8,387 532.8,385.7 536,384.9 539.2,384.6 541.2,384.6 545.2,384.8 548.4,385 552.4,383.9 556.4,383.5 561.2,383.4 564.4,383.6 567.6,383.4 571.6,383.6 576.4,383.9 580.4,384.5 584.4,385.4 588.4,386.2 592.4,386.8 597.2,387.2 602,387.6 606.8,388 611.6,388.4 614.3,388.7 619.6,388.8 626,389 632.4,389.2 637.2,389.5 641.2,389.7 645.5,389.1 650,388.4 655,387.7 660,387.2 668,386.4 676,385.7 684,384.9 690,384.4 694,383.7 700,383.2 706,382.6 709,382.4 713,382.7 718,382.5 722,383.1 725,383.4 730,383.3 735,383.6 740,383.9 746,383.9 752,384.2 758.3,383.9 762.8,383.4 767.6,383 772.4,382.6 777.2,382.1 782.8,381.8 786.8,382.1 790,381.4 795.6,380.9 799.6,380.9 803.6,380.8 807.6,381 812.4,381.4 817.2,381.8 820.4,381.8 825.2,382.1 830,382.4 833.2,382.7 837.2,383.2 841.2,382.9 846,383 850.8,383.2 855.6,382.9 860.4,383.2 864.8,383.6 869.6,384.3 873.6,384.6 877.6,384.2 880.8,383.9 885.6,384.2 892,384.5 898.4,384.8 901.6,385.4 906.4,386 911.2,386.5 917.6,387.1 924,387.7 930.6,388.4 936.8,388.8 943.2,389.1 949.6,389.6 954.5,389.7 960.8,390.2 971.6,390.4 977,391.1 984.2,391.3 989.6,391.9 996.8,392.5 1004,392.8 1011.2,393 1018.3,393.2 1025.5,393.6 1032.7,393.9 1040,394.3 1047.1,394.7 1052.5,395.1 1059.4,395.5 1064.2,395.6 1069.8,395.6 1075.4,395.9 1082.4,396.1 1089.4,396.3 1095,395.9 1100.6,395.7 1104.8,395.8 1109,396 1113.2,396.2 1117.4,395.6 1120.9,395.3 1124.4,395.6 1128.6,395.4 1132.8,395.2 1138.4,395.3 1142.6,394.9 1149.6,394.7 1155.2,394.4 1160.8,394.3 1166.4,393.9 1172,393.8 1176,393.8 1184,393.9 1189.6,394 1195.2,394.4 1200.8,394.7 1207.4,394.9 1213.4,394.7 1219,394.6 1223.2,394.3 1227.4,394.2 1231.6,394.6 1235.8,395.2 1240,395.6 1245.6,395.9 1251.2,396.1 1255.4,396.6 1259.6,397 1263.8,397.5 1268,397.6 1271,397.3 1274.3,396.9 1278.4,396.8 1281.5,397.1 1285.4,397.4 1289.6,397.4 1293.8,396.9 1298,396.5 1303.6,396.1 1307.8,395.7 1313.4,395.3 1317.6,395.4 1321.8,395.8 1326,395.9 1330.2,395.9 1334.4,396.2 1338.6,396.2 1342.8,396.4 1348.4,396.6 1354,397 1359.6,397.1 1363.8,397.1 1369.5,397.2"/></g>
<rect x="1370.5" y="78.5" width="24.5" height="322" fill="#fff"/>
<text transform="translate(1388.5,240.5) rotate(-90)" fill="#505050" stroke="#505050" stroke-width="0.35" font-size="22" text-anchor="middle">©TraceDeTrail.fr</text>
<g stroke="#585858" stroke-width="2.5"><line x1="49.5" x2="49.5" y1="79" y2="358.5"/><line x1="276.5" x2="276.5" y1="79" y2="326.8"/><line x1="453.7" x2="453.7" y1="79" y2="270.9"/><line x1="614.3" x2="614.3" y1="79" y2="284"/><line x1="758.5" x2="758.5" y1="79" y2="235.6"/><line x1="930.6" x2="930.6" y1="79" y2="280"/><line x1="1059.5" x2="1059.5" y1="79" y2="351.4"/><line x1="1207.4" x2="1207.4" y1="79" y2="345.9"/><line x1="1369.5" x2="1369.5" y1="79" y2="368.8"/></g>
<g fill="#5c5c5c" stroke="#5c5c5c" stroke-width="0.4" font-size="19.2" text-anchor="end"><text transform="translate(66.7,82.1) rotate(-90) scale(0.942,1)">Ongles</text><text transform="translate(273.8,82.1) rotate(-90) scale(0.942,1)">Saumane</text><text transform="translate(451,82.1) rotate(-90) scale(0.942,1)">Col de la Roche</text><text transform="translate(611.6,82.1) rotate(-90) scale(0.942,1)">Vallon de Briau</text><text transform="translate(755.8,82.1) rotate(-90) scale(0.942,1)">Station de Lure</text><text transform="translate(927.9,82.1) rotate(-90) scale(0.942,1)">Notre Dame de Lure</text><text transform="translate(1056.8,82.1) rotate(-90) scale(0.942,1)">Saint-Etienne-les-Orgues</text><text transform="translate(1204.7,82.1) rotate(-90) scale(0.942,1)">Fontienne</text><text transform="translate(1366.8,82.1) rotate(-90) scale(0.942,1)">Forcalquier</text></g>
<circle cx="49.5" cy="358.5" r="5.2" fill="#66c64c"/><circle cx="276.5" cy="326.8" r="4.1" fill="#fff" stroke="#545454" stroke-width="2"/><circle cx="453.7" cy="270.9" r="4.1" fill="#fff" stroke="#545454" stroke-width="2"/><circle cx="614.3" cy="284" r="4.1" fill="#fff" stroke="#545454" stroke-width="2"/><circle cx="758.5" cy="235.6" r="5.2" fill="#a60d1d"/><circle cx="930.6" cy="280" r="5.2" fill="#5a95ee"/><circle cx="1059.5" cy="351.4" r="5.2" fill="#a60d1d"/><circle cx="1207.4" cy="345.9" r="4.1" fill="#fff" stroke="#545454" stroke-width="2"/><circle cx="1369.5" cy="368.8" r="5.2" fill="#ff0000"/>
<circle cx="49.5" cy="65.7" r="13.8" fill="#66c64c"/><g transform="translate(49.5,65.7)" fill="#fff"><rect x="-7.2" y="-9.6" width="1.6" height="19.6"/><path d="M-5.8,-8.6 C-3.5,-6.4 -1.0,-7.6 1.5,-8.2 C3.8,-8.8 6.0,-8.4 7.8,-8.4 L7.8,1.8 C5.6,1.4 3.2,0.8 0.8,1.6 C-1.8,2.6 -3.8,3.2 -5.8,2.4 Z"/></g><circle cx="276.5" cy="65.7" r="13.8" fill="#575757"/><g transform="translate(276.5,65.7)" fill="#fff"><g transform="translate(1.05,1.0) rotate(-44.4)"><path d="M-10.3,0 A0.95,0.95 0 0 1 -9.35,-0.95 L1.2,-0.95 C2.6,-0.95 3.2,-2.8 4.8,-2.8 L10.0,-2.8 A0.4,0.4 0 0 1 10.4,-2.4 L10.4,2.4 A0.4,0.4 0 0 1 10.0,2.8 L4.8,2.8 C3.2,2.8 2.6,0.95 1.2,0.95 L-9.35,0.95 A0.95,0.95 0 0 1 -10.3,0 Z"/><path d="M5.6,-1.35 L11,-1.35 L11,-0.55 L5.6,-0.55 A0.4,0.4 0 0 1 5.6,-1.35 Z" fill="#575757"/><path d="M5.6,0.55 L11,0.55 L11,1.35 L5.6,1.35 A0.4,0.4 0 0 1 5.6,0.55 Z" fill="#575757"/></g><g transform="translate(-0.6,0.15) rotate(42.2)" stroke="#575757" stroke-width="1.3" paint-order="stroke"><path d="M-10.9,0 C-10.9,-1.5 -10.0,-2.0 -8.8,-2.0 L-2.4,-1.7 L-1.6,-1.1 L9.9,-1.1 A1.1,1.1 0 0 1 9.9,1.1 L-2.4,1.1 L-8.8,1.8 C-10.0,1.8 -10.9,1.3 -10.9,0 Z"/></g></g><circle cx="453.7" cy="65.7" r="13.8" fill="#575757"/><g transform="translate(453.7,65.7)" fill="#fff"><g transform="translate(1.05,1.0) rotate(-44.4)"><path d="M-10.3,0 A0.95,0.95 0 0 1 -9.35,-0.95 L1.2,-0.95 C2.6,-0.95 3.2,-2.8 4.8,-2.8 L10.0,-2.8 A0.4,0.4 0 0 1 10.4,-2.4 L10.4,2.4 A0.4,0.4 0 0 1 10.0,2.8 L4.8,2.8 C3.2,2.8 2.6,0.95 1.2,0.95 L-9.35,0.95 A0.95,0.95 0 0 1 -10.3,0 Z"/><path d="M5.6,-1.35 L11,-1.35 L11,-0.55 L5.6,-0.55 A0.4,0.4 0 0 1 5.6,-1.35 Z" fill="#575757"/><path d="M5.6,0.55 L11,0.55 L11,1.35 L5.6,1.35 A0.4,0.4 0 0 1 5.6,0.55 Z" fill="#575757"/></g><g transform="translate(-0.6,0.15) rotate(42.2)" stroke="#575757" stroke-width="1.3" paint-order="stroke"><path d="M-10.9,0 C-10.9,-1.5 -10.0,-2.0 -8.8,-2.0 L-2.4,-1.7 L-1.6,-1.1 L9.9,-1.1 A1.1,1.1 0 0 1 9.9,1.1 L-2.4,1.1 L-8.8,1.8 C-10.0,1.8 -10.9,1.3 -10.9,0 Z"/></g></g><circle cx="614.3" cy="65.7" r="13.8" fill="#575757"/><g transform="translate(614.3,65.7)" fill="#fff"><g transform="translate(1.05,1.0) rotate(-44.4)"><path d="M-10.3,0 A0.95,0.95 0 0 1 -9.35,-0.95 L1.2,-0.95 C2.6,-0.95 3.2,-2.8 4.8,-2.8 L10.0,-2.8 A0.4,0.4 0 0 1 10.4,-2.4 L10.4,2.4 A0.4,0.4 0 0 1 10.0,2.8 L4.8,2.8 C3.2,2.8 2.6,0.95 1.2,0.95 L-9.35,0.95 A0.95,0.95 0 0 1 -10.3,0 Z"/><path d="M5.6,-1.35 L11,-1.35 L11,-0.55 L5.6,-0.55 A0.4,0.4 0 0 1 5.6,-1.35 Z" fill="#575757"/><path d="M5.6,0.55 L11,0.55 L11,1.35 L5.6,1.35 A0.4,0.4 0 0 1 5.6,0.55 Z" fill="#575757"/></g><g transform="translate(-0.6,0.15) rotate(42.2)" stroke="#575757" stroke-width="1.3" paint-order="stroke"><path d="M-10.9,0 C-10.9,-1.5 -10.0,-2.0 -8.8,-2.0 L-2.4,-1.7 L-1.6,-1.1 L9.9,-1.1 A1.1,1.1 0 0 1 9.9,1.1 L-2.4,1.1 L-8.8,1.8 C-10.0,1.8 -10.9,1.3 -10.9,0 Z"/></g></g><circle cx="758.5" cy="65.7" r="13.8" fill="#575757"/><g transform="translate(758.5,65.7)" fill="#fff"><g transform="translate(1.05,1.0) rotate(-44.4)"><path d="M-10.3,0 A0.95,0.95 0 0 1 -9.35,-0.95 L1.2,-0.95 C2.6,-0.95 3.2,-2.8 4.8,-2.8 L10.0,-2.8 A0.4,0.4 0 0 1 10.4,-2.4 L10.4,2.4 A0.4,0.4 0 0 1 10.0,2.8 L4.8,2.8 C3.2,2.8 2.6,0.95 1.2,0.95 L-9.35,0.95 A0.95,0.95 0 0 1 -10.3,0 Z"/><path d="M5.6,-1.35 L11,-1.35 L11,-0.55 L5.6,-0.55 A0.4,0.4 0 0 1 5.6,-1.35 Z" fill="#575757"/><path d="M5.6,0.55 L11,0.55 L11,1.35 L5.6,1.35 A0.4,0.4 0 0 1 5.6,0.55 Z" fill="#575757"/></g><g transform="translate(-0.6,0.15) rotate(42.2)" stroke="#575757" stroke-width="1.3" paint-order="stroke"><path d="M-10.9,0 C-10.9,-1.5 -10.0,-2.0 -8.8,-2.0 L-2.4,-1.7 L-1.6,-1.1 L9.9,-1.1 A1.1,1.1 0 0 1 9.9,1.1 L-2.4,1.1 L-8.8,1.8 C-10.0,1.8 -10.9,1.3 -10.9,0 Z"/></g></g><circle cx="759.3" cy="37.9" r="12" fill="#fff" stroke="#a60d1d" stroke-width="3.8"/><path d="M759.3,32.3 L759.3,39.5 L755.3,37.3" fill="none" stroke="#a60d1d" stroke-width="1.6" stroke-linecap="round" stroke-linejoin="round"/><circle cx="930.6" cy="65.7" r="13.8" fill="#5a95ee"/><g transform="translate(930.6,65.7)"><path d="M-6.0,-8.8 L6.0,-8.8 L5.2,8.8 L-4.6,8.8 Z" fill="#fff"/><path d="M-4.8,-7.5 L4.8,-7.5 L4.65,-4.6 C3.2,-4.9 1.6,-5.0 0.2,-4.5 C-1.6,-3.9 -3.2,-4.0 -4.65,-4.4 Z" fill="#5a95ee"/></g><circle cx="1059.5" cy="65.7" r="13.8" fill="#575757"/><g transform="translate(1059.5,65.7)" fill="#fff"><g transform="translate(1.05,1.0) rotate(-44.4)"><path d="M-10.3,0 A0.95,0.95 0 0 1 -9.35,-0.95 L1.2,-0.95 C2.6,-0.95 3.2,-2.8 4.8,-2.8 L10.0,-2.8 A0.4,0.4 0 0 1 10.4,-2.4 L10.4,2.4 A0.4,0.4 0 0 1 10.0,2.8 L4.8,2.8 C3.2,2.8 2.6,0.95 1.2,0.95 L-9.35,0.95 A0.95,0.95 0 0 1 -10.3,0 Z"/><path d="M5.6,-1.35 L11,-1.35 L11,-0.55 L5.6,-0.55 A0.4,0.4 0 0 1 5.6,-1.35 Z" fill="#575757"/><path d="M5.6,0.55 L11,0.55 L11,1.35 L5.6,1.35 A0.4,0.4 0 0 1 5.6,0.55 Z" fill="#575757"/></g><g transform="translate(-0.6,0.15) rotate(42.2)" stroke="#575757" stroke-width="1.3" paint-order="stroke"><path d="M-10.9,0 C-10.9,-1.5 -10.0,-2.0 -8.8,-2.0 L-2.4,-1.7 L-1.6,-1.1 L9.9,-1.1 A1.1,1.1 0 0 1 9.9,1.1 L-2.4,1.1 L-8.8,1.8 C-10.0,1.8 -10.9,1.3 -10.9,0 Z"/></g></g><circle cx="1060.3" cy="37.9" r="12" fill="#fff" stroke="#a60d1d" stroke-width="3.8"/><path d="M1060.3,32.3 L1060.3,39.5 L1056.3,37.3" fill="none" stroke="#a60d1d" stroke-width="1.6" stroke-linecap="round" stroke-linejoin="round"/><circle cx="1207.4" cy="65.7" r="13.8" fill="#575757"/><g transform="translate(1207.4,65.7)" fill="#fff"><g transform="translate(1.05,1.0) rotate(-44.4)"><path d="M-10.3,0 A0.95,0.95 0 0 1 -9.35,-0.95 L1.2,-0.95 C2.6,-0.95 3.2,-2.8 4.8,-2.8 L10.0,-2.8 A0.4,0.4 0 0 1 10.4,-2.4 L10.4,2.4 A0.4,0.4 0 0 1 10.0,2.8 L4.8,2.8 C3.2,2.8 2.6,0.95 1.2,0.95 L-9.35,0.95 A0.95,0.95 0 0 1 -10.3,0 Z"/><path d="M5.6,-1.35 L11,-1.35 L11,-0.55 L5.6,-0.55 A0.4,0.4 0 0 1 5.6,-1.35 Z" fill="#575757"/><path d="M5.6,0.55 L11,0.55 L11,1.35 L5.6,1.35 A0.4,0.4 0 0 1 5.6,0.55 Z" fill="#575757"/></g><g transform="translate(-0.6,0.15) rotate(42.2)" stroke="#575757" stroke-width="1.3" paint-order="stroke"><path d="M-10.9,0 C-10.9,-1.5 -10.0,-2.0 -8.8,-2.0 L-2.4,-1.7 L-1.6,-1.1 L9.9,-1.1 A1.1,1.1 0 0 1 9.9,1.1 L-2.4,1.1 L-8.8,1.8 C-10.0,1.8 -10.9,1.3 -10.9,0 Z"/></g></g><circle cx="1370" cy="65.7" r="13.8" fill="#ff0000"/><g transform="translate(1370,65.7)" fill="#fff"><rect x="-7.2" y="-9.6" width="1.6" height="19.6"/><path d="M-5.8,-8.6 C-3.5,-6.4 -1.0,-7.6 1.5,-8.2 C3.8,-8.8 6.0,-8.4 7.8,-8.4 L7.8,1.8 C5.6,1.4 3.2,0.8 0.8,1.6 C-1.8,2.6 -3.8,3.2 -5.8,2.4 Z"/></g>
<g fill="#000" stroke="#fff" stroke-width="1.5"><path d="M113,449.5 L137,433.5 L189,433.5 L213,449.5 L189,465.5 L137,465.5 Z"/><path d="M315.1,449.5 L339.1,433.5 L391.1,433.5 L415.1,449.5 L391.1,465.5 L339.1,465.5 Z"/><path d="M485.8,449.5 L509.8,433.5 L558.2,433.5 L582.2,449.5 L558.2,465.5 L509.8,465.5 Z"/><path d="M638.2,449.5 L662.2,433.5 L710.6,433.5 L734.6,449.5 L710.6,465.5 L662.2,465.5 Z"/><path d="M794.6,449.5 L818.6,433.5 L870.5,433.5 L894.5,449.5 L870.5,465.5 L818.6,465.5 Z"/><path d="M949,449.5 L973,433.5 L1017.1,433.5 L1041.1,449.5 L1017.1,465.5 L973,465.5 Z"/><path d="M1085.2,449.5 L1109.2,433.5 L1157.7,433.5 L1181.7,449.5 L1157.7,465.5 L1109.2,465.5 Z"/><path d="M1240.2,449.5 L1264.2,433.5 L1312.7,433.5 L1336.7,449.5 L1312.7,465.5 L1264.2,465.5 Z"/></g>
<g fill="#fff" font-size="14" font-weight="bold" text-anchor="middle"><text x="163" y="447">13.9 km</text><text x="163" y="463">570 m+</text><text x="365.1" y="447">10.8 km</text><text x="365.1" y="463">690 m+</text><text x="534" y="447">9.9 km</text><text x="534" y="463">620 m+</text><text x="686.4" y="447">8.8 km</text><text x="686.4" y="463">660 m+</text><text x="844.5" y="447">10.5 km</text><text x="844.5" y="463">400 m+</text><text x="995" y="447">7.9 km</text><text x="995" y="463">10 m+</text><text x="1133.5" y="447">9.1 km</text><text x="1133.5" y="463">260 m+</text><text x="1288.5" y="447">9.9 km</text><text x="1288.5" y="463">310 m+</text></g>
</svg>
</body></html>
